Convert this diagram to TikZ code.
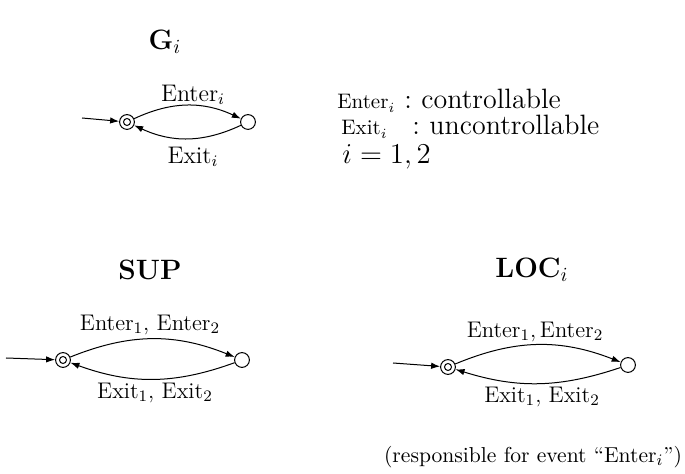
\documentclass[tikz,border=0pt]{standalone}
\usepackage{fontspec}
\usetikzlibrary{arrows.meta}
\tikzset{
  st/.style={circle,draw,line width=0.5pt,minimum size=7.4pt,inner sep=0pt},
  mk/.style={st,path picture={\draw[line width=0.5pt] (path picture bounding box.center) circle (1.75pt);}},
  tr/.style={line width=0.5pt,-{Latex[length=4.5pt,width=3.2pt]}},
  lab/.style={inner sep=0pt,font=\fontsize{12}{14}\selectfont},
  labs/.style={inner sep=0pt,font=\fontsize{11.3}{13}\selectfont},
  ttl/.style={inner sep=0pt,font=\fontsize{14}{16}\selectfont\bfseries},
  leg/.style={inner sep=0pt,anchor=base west,font=\fontsize{14}{16}\selectfont},
  legs/.style={inner sep=0pt,anchor=base west,font=\fontsize{10.5}{12}\selectfont}
}
\begin{document}
\begin{tikzpicture}[x=0.5pt,y=-0.5pt]
\useasboundingbox (0,0) rectangle (685,474);
% G_i
\node[ttl] (tg) at (165,42) {G$_i$};
\node[mk] (g1) at (127,122) {};
\node[st] (g2) at (248,122) {};
\coordinate (g0) at (82,118);
\draw[tr] (g0) -- (g1);
\draw[tr] (g1) to[bend left=25] (g2);
\draw[tr] (g2) to[bend left=25] (g1);
\node[lab] (ge) at (193,95) {Enter$_i$};
\node[lab] (gx) at (193,157) {Exit$_i$};
% legend
\node[legs] (l1a) at (337,109) {Enter$_i$};
\node[leg] (l1b) at (404,109) {:};
\node[leg] (l1c) at (421,109) {controllable};
\node[legs] (l2a) at (341,135) {Exit$_i$};
\node[leg] (l2b) at (412,135) {:};
\node[leg] (l2c) at (429,135) {uncontrollable};
\node[leg,font=\fontsize{13.5}{16}\selectfont] (l3) at (342,164) {$i=1,2$};
% SUP
\node[ttl] (ts) at (150,270) {SUP};
\node[mk] (s1) at (63,360) {};
\node[st] (s2) at (242,360) {};
\coordinate (s0) at (6,358);
\draw[tr] (s0) -- (s1);
\draw[tr] (s1) to[bend left=22] (s2);
\draw[tr] (s2) to[bend left=20] (s1);
\node[labs] (se) at (150,325) {Enter$_1$, Enter$_2$};
\node[labs] (sx) at (155,393) {Exit$_1$, Exit$_2$};
% LOC
\node[ttl] (tl) at (532,270) {LOC$_i$};
\node[mk] (c1) at (448,367) {};
\node[st] (c2) at (628,365) {};
\coordinate (c0) at (393,363);
\draw[tr] (c0) -- (c1);
\draw[tr] (c1) to[bend left=22] (c2);
\draw[tr] (c2) to[bend left=18] (c1);
\node[labs] (ce) at (535,332) {Enter$_1$,\,Enter$_2$};
\node[labs] (cx) at (542,397) {Exit$_1$, Exit$_2$};
\node[inner sep=0pt,font=\fontsize{10.8}{13}\selectfont] (resp) at (533,457) {(responsible for event ``Enter$_i$'')};
\end{tikzpicture}
\end{document}
